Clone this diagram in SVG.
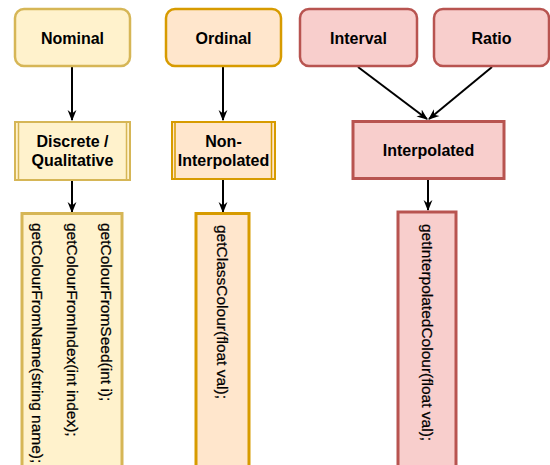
<svg xmlns="http://www.w3.org/2000/svg" width="550" height="465" viewBox="0 0 550 465">
<defs>
<style>
.t{font-family:"Liberation Sans",Arial,Helvetica,sans-serif;font-size:16px;font-weight:bold;fill:#000;text-anchor:middle}
.m{font-family:"Liberation Sans",Arial,Helvetica,sans-serif;font-size:15.5px;fill:#000;stroke:#000;stroke-width:0.25}
.y{fill:#fff2cc;stroke:#d6b656}
.o{fill:#ffe6cc;stroke:#d79b00}
.r{fill:#f8cecc;stroke:#b85450}
.c{stroke:#000;stroke-width:2;fill:none}
</style>
<marker id="ah" viewBox="0 0 10 10" refX="9" refY="5" markerWidth="11" markerHeight="11" markerUnits="userSpaceOnUse" orient="auto">
<path d="M0,1 L10,5 L0,9 L3,5 Z" fill="#000"/>
</marker>
</defs>
<g id="connectors">
<line class="c" x1="72" y1="67" x2="72" y2="120" marker-end="url(#ah)"/>
<line class="c" x1="223" y1="67" x2="223" y2="120" marker-end="url(#ah)"/>
<line class="c" x1="358" y1="67" x2="427" y2="119" marker-end="url(#ah)"/>
<line class="c" x1="492" y1="67" x2="429" y2="119" marker-end="url(#ah)"/>
<line class="c" x1="72" y1="180" x2="72" y2="212" marker-end="url(#ah)"/>
<line class="c" x1="223" y1="180" x2="223" y2="212" marker-end="url(#ah)"/>
<line class="c" x1="428" y1="179" x2="428" y2="210" marker-end="url(#ah)"/>
</g>
<g id="nominal">
<rect class="y" x="15" y="9" width="115" height="57" rx="9" stroke-width="2.5"/>
<text class="t" x="72.5" y="44">Nominal</text>
</g>
<g id="ordinal">
<rect class="o" x="166" y="9" width="115" height="57" rx="9" stroke-width="2.5"/>
<text class="t" x="223.5" y="44">Ordinal</text>
</g>
<g id="interval">
<rect class="r" x="300" y="9" width="117" height="57" rx="9" stroke-width="2.5"/>
<text class="t" x="358.5" y="44">Interval</text>
</g>
<g id="ratio">
<rect class="r" x="434" y="9" width="115" height="57" rx="9" stroke-width="2.5"/>
<text class="t" x="491.5" y="44">Ratio</text>
</g>
<g id="discrete">
<rect class="y" x="15" y="122" width="115" height="58" stroke-width="2"/>
<line class="y" x1="18.5" y1="122" x2="18.5" y2="180" stroke-width="1.5"/>
<line class="y" x1="126.5" y1="122" x2="126.5" y2="180" stroke-width="1.5"/>
<text class="t" x="72.5" y="147">Discrete /</text>
<text class="t" x="72.5" y="166">Qualitative</text>
</g>
<g id="noninterpolated">
<rect class="o" x="172" y="122" width="103" height="57" stroke-width="2"/>
<line class="o" x1="175" y1="122" x2="175" y2="179" stroke-width="1.5"/>
<line class="o" x1="271.5" y1="122" x2="271.5" y2="179" stroke-width="1.5"/>
<text class="t" x="223.5" y="147">Non-</text>
<text class="t" x="223.5" y="166">Interpolated</text>
</g>
<g id="interpolated">
<rect class="r" x="353" y="121.5" width="151" height="57" stroke-width="3"/>
<text class="t" x="428.5" y="156">Interpolated</text>
</g>
<g id="discrete-methods">
<rect class="y" x="22" y="213.5" width="100" height="260" stroke-width="3"/>
<text class="m" transform="translate(101,223) rotate(90)">getColourFromSeed(int i);</text>
<text class="m" transform="translate(67,223) rotate(90)">getColourFromIndex(int index);</text>
<text class="m" transform="translate(32,223) rotate(90)">getColourFromName(string name);</text>
</g>
<g id="noninterpolated-methods">
<rect class="o" x="196" y="213.5" width="53" height="260" stroke-width="3"/>
<text class="m" transform="translate(217,225) rotate(90)">getClassColour(float val);</text>
</g>
<g id="interpolated-methods">
<rect class="r" x="398" y="212" width="58" height="260" stroke-width="3"/>
<text class="m" transform="translate(422,224) rotate(90)">getInterpolatedColour(float val);</text>
</g>
</svg>
